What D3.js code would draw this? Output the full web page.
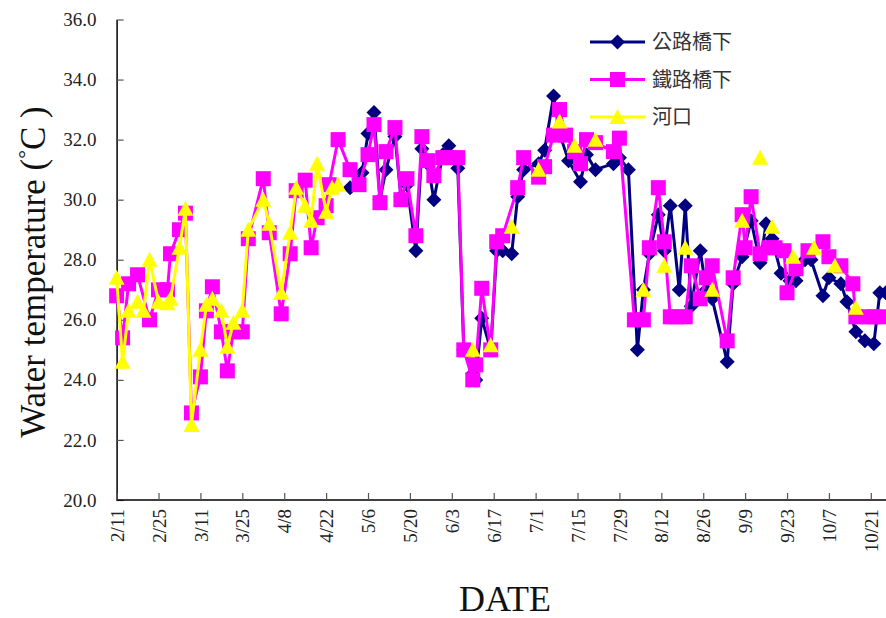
<!DOCTYPE html>
<html><head><meta charset="utf-8">
<script src="https://cdn.jsdelivr.net/npm/d3@7/dist/d3.min.js"></script>
<style>body{margin:0;background:#fff}svg{display:block}</style>
</head><body><svg id="chart" width="886" height="618"></svg>
<script>
// ---------- data ----------
const seriesNames = ["公路橋下", "鐵路橋下", "河口"];
const xTickLabels = ["2/11","2/25","3/11","3/25","4/8","4/22","5/6","5/20","6/3","6/17","7/1","7/15","7/29","8/12","8/26","9/9","9/23","10/7","10/21"];
const yTickValues = [20,22,24,26,28,30,32,34,36];

// 公路橋下 (road bridge)
const roadDates = ["4/30","5/4","5/6","5/8","5/10","5/12","5/15","5/17","5/19","5/22","5/24","5/26","5/28","5/31","6/2","6/5","6/7","6/10","6/11","6/13","6/16","6/18","6/20","6/23","6/25","6/27","7/2","7/4","7/7","7/9","7/12","7/16","7/18","7/21","7/27","7/29","8/1","8/4","8/6","8/8","8/11","8/13","8/15","8/18","8/20","8/22","8/25","8/27","8/29","9/3","9/5","9/8","9/11","9/14","9/16","9/18","9/21","9/24","9/26","9/29","10/1","10/5","10/7","10/11","10/13","10/16","10/19","10/22","10/24","10/26"];
const roadValues = [30.4,30.9,32.2,32.9,30.0,31.0,32.1,30.1,30.5,28.3,31.7,31.2,30.0,31.5,31.8,31.05,25.0,24.2,24.0,26.05,25.0,28.3,28.3,28.2,30.1,31.0,31.2,31.65,33.45,32.2,31.3,30.6,31.5,31.0,31.2,31.4,31.0,25.0,27.0,28.2,29.5,28.3,29.8,27.0,29.8,26.45,28.3,27.0,26.7,24.6,27.2,28.1,29.3,27.9,29.2,28.7,27.55,27.3,27.3,28.0,28.0,26.8,27.4,27.2,26.6,25.6,25.3,25.2,26.9,26.9];

// 鐵路橋下 (railway bridge)
const railDates = ["2/11","2/13","2/15","2/18","2/22","2/25","2/28","3/1","3/4","3/6","3/8","3/11","3/13","3/15","3/18","3/20","3/22","3/25","3/27","4/1","4/3","4/7","4/10","4/12","4/15","4/17","4/19","4/22","4/23","4/26","4/30","5/3","5/6","5/8","5/10","5/12","5/15","5/17","5/19","5/22","5/24","5/26","5/28","5/31","6/2","6/5","6/7","6/10","6/11","6/13","6/16","6/18","6/20","6/25","6/27","7/2","7/4","7/7","7/9","7/11","7/14","7/16","7/18","7/21","7/27","7/29","8/3","8/6","8/8","8/11","8/13","8/15","8/17","8/20","8/22","8/25","8/27","8/29","9/3","9/5","9/8","9/9","9/11","9/14","9/17","9/19","9/22","9/23","9/26","9/30","10/5","10/7","10/11","10/15","10/16","10/20","10/22","10/25"];
const railValues = [26.8,25.4,27.2,27.5,26.0,27.0,27.0,28.2,29.0,29.55,22.9,24.1,26.3,27.1,25.6,24.3,25.6,25.6,28.7,30.7,28.9,26.2,28.2,30.3,30.65,28.4,29.4,29.8,30.5,32.0,31.0,30.5,31.5,32.5,29.9,31.6,32.4,30.0,30.7,28.8,32.1,31.3,30.8,31.4,31.4,31.4,25.0,24.0,24.5,27.05,25.0,28.6,28.8,30.4,31.4,30.75,31.1,32.15,33.0,32.15,31.6,31.2,32.0,31.9,31.6,32.05,26.0,26.0,28.4,30.4,28.6,26.1,26.1,26.1,27.8,26.7,27.4,27.8,25.3,27.4,29.5,28.4,30.1,28.2,28.4,28.4,28.3,26.9,27.7,28.3,28.6,28.1,27.8,27.2,26.1,26.1,26.1,26.1];

// 河口 (estuary) — null marks a gap in the line
const estuaryDates = ["2/11","2/13","2/15","2/18","2/20","2/22","2/25","2/28","3/1","3/4","3/6","3/8","3/11","3/13","3/15","3/18","3/20","3/22","3/25","3/27","4/1","4/3","4/7","4/10","4/12","4/15","4/17","4/19","4/22","4/24","4/26","5/1","6/10","6/13","6/16","6/18","6/23","6/27","7/2","7/5","7/9","7/11","7/14","7/16","7/21","7/27","8/6","8/8","8/13","8/15","8/20","8/22","8/29","9/3","9/8","9/11","9/14","9/16","9/18","9/21","9/25","9/29","10/2","10/5","10/9","10/12","10/16"];
const estuaryValues = [27.4,24.6,26.3,26.6,26.3,28.0,26.6,26.55,26.7,28.4,29.7,22.5,25.0,26.5,26.7,26.3,25.1,25.9,26.3,29.0,30.0,29.2,26.9,28.9,30.4,29.8,29.3,31.2,29.6,30.4,30.5,null,25.0,null,25.15,null,29.1,null,31.0,null,32.6,null,31.8,null,32.0,null,27.0,null,27.8,null,28.4,null,27.0,null,29.3,null,31.4,null,29.1,null,28.1,null,28.4,null,27.8,null,26.4];

// ---------- setup ----------
const YEAR = 2003;
const parse = s => { const [m, d] = s.split("/").map(Number); return new Date(Date.UTC(YEAR, m - 1, d)); };
const DAY = 86400000;
const start = parse("2/11");
const x0 = 116.6, pxPerDay = 2.993, spanDays = 262;
const x = d3.scaleUtc().domain([start, new Date(+start + spanDays * DAY)]).range([x0, x0 + spanDays * pxPerDay]);
const y = d3.scaleLinear().domain([20, 36]).range([500, 19.5]);

const svg = d3.select("#chart");
const serif = "'Liberation Serif','Times New Roman',serif";
const cjk = "'Noto Sans CJK TC','Noto Sans CJK SC',sans-serif";

// axes
const yAxis = d3.axisLeft(y).tickValues(yTickValues).tickFormat(d3.format(".1f")).tickSizeInner(-7).tickSizeOuter(0).tickPadding(20);
const gy = svg.append("g").attr("transform", `translate(${x0},0)`).call(yAxis);
const xAxis = d3.axisBottom(x).tickValues(xTickLabels.map(parse)).tickFormat((d, i) => xTickLabels[i]).tickSizeInner(-7).tickSizeOuter(0);
const gx = svg.append("g").attr("transform", `translate(0,500)`).call(xAxis);
gx.select(".domain").attr("d", `M${x0},0H900`);
[gx, gy].forEach(g => {
  g.select(".domain").attr("stroke", "#000").attr("stroke-width", 1.5);
  g.selectAll(".tick line").attr("stroke", "#555").attr("stroke-width", 1.2);
  g.selectAll("text").attr("font-family", serif).attr("font-size", 19).attr("fill", "#222");
});
gx.selectAll(".tick text").attr("transform", "rotate(-90)").attr("text-anchor", "end").attr("x", -9).attr("y", 0).attr("dy", "0.35em");

// titles
svg.append("text").attr("x", 505).attr("y", 611).attr("text-anchor", "middle")
  .attr("font-family", serif).attr("font-size", 36).attr("fill", "#111").text("DATE");
const yt = svg.append("text").attr("transform", "translate(45,272) rotate(-90)").attr("text-anchor", "middle")
  .attr("font-family", serif).attr("font-size", 35).attr("fill", "#111");
yt.append("tspan").text("Water temperature (");
yt.append("tspan").attr("font-size", 22).attr("dy", -12).text("°");
yt.append("tspan").attr("dy", 12).text("C )");

// markers
const markerPath = {
  diamond: "M0,-7.5L7.5,0L0,7.5L-7.5,0Z",
  square: "M-7.5,-7.5H7.5V7.5H-7.5Z",
  triangle: "M0,-8L8,7L-8,7Z"
};
const series = [
  { name: seriesNames[0], dates: roadDates, values: roadValues, color: "#000080", marker: "diamond" },
  { name: seriesNames[1], dates: railDates, values: railValues, color: "#FF00FF", marker: "square" },
  { name: seriesNames[2], dates: estuaryDates, values: estuaryValues, color: "#FFFF00", marker: "triangle" }
];
const line = d3.line().defined(d => d.v != null).x(d => x(d.t)).y(d => y(d.v));
series.forEach(s => {
  const pts = s.dates.map((dt, i) => ({ t: parse(dt), v: s.values[i] }));
  const g = svg.append("g");
  g.append("path").datum(pts).attr("d", line).attr("fill", "none").attr("stroke", s.color).attr("stroke-width", 3).attr("stroke-linejoin", "round");
  g.selectAll("path.m").data(pts.filter(d => d.v != null)).join("path").attr("class", "m")
    .attr("d", markerPath[s.marker]).attr("transform", d => `translate(${x(d.t)},${y(d.v)})`).attr("fill", s.color);
});

// legend
const lg = svg.append("g");
series.forEach((s, i) => {
  const ly = 42 + i * 37.5;
  lg.append("line").attr("x1", 590).attr("x2", 645).attr("y1", ly).attr("y2", ly).attr("stroke", s.color).attr("stroke-width", 3);
  lg.append("path").attr("d", markerPath[s.marker]).attr("transform", `translate(617.5,${ly})`).attr("fill", s.color);
  lg.append("text").attr("x", 652).attr("y", ly).attr("dy", "0.35em").attr("font-family", cjk).attr("font-size", 20).attr("fill", "#333").text(s.name);
});
</script></body></html>
